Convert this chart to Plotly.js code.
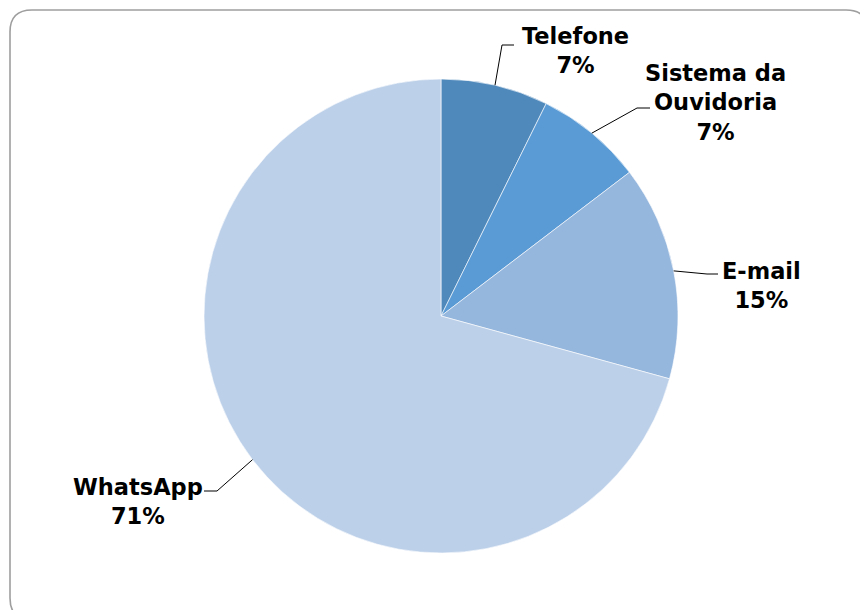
<!DOCTYPE html>
<html>
<head>
<meta charset="utf-8">
<script src="https://cdn.plot.ly/plotly-3.0.1.min.js"></script>
<style>html,body{margin:0;padding:0;background:#fff;}#chart{width:860px;height:610px;}</style>
</head>
<body>
<div id="chart"></div>
<script>
// Data
const categories = ["Telefone", "Sistema da<br>Ouvidoria", "E-mail", "WhatsApp"];
const values = [3, 3, 6, 29];
const colors = ["#4F89BC", "#5B9BD5", "#95B6DD", "#BCD0E9"];

// Layout constants (pixels)
const W = 860, H = 610;
const cx = 441, cy = 316, R = 237;
// label centre and leader elbow / end per slice
const labelPos = [[575, 51], [715, 102], [761, 285], [138, 501]];
const elbows = [[[502, 45], [514, 45]], [[637, 108], [650, 108]], [[707, 274], [718, 274]], [[217, 491], [204, 491]]];

const px = x => x / W;
const py = y => 1 - y / H;

const total = values.reduce((a, b) => a + b, 0);
const pct = values.map(v => Math.round(v / total * 100) + "%");

const trace = {
  type: "pie",
  labels: categories,
  values: values,
  sort: false,
  direction: "clockwise",
  rotation: 0,
  textinfo: "none",
  hoverinfo: "label+percent",
  marker: {colors: colors, line: {color: "#ffffff", width: 0.6}},
  domain: {x: [px(cx - R), px(cx + R)], y: [py(cy + R), py(cy - R)]},
  showlegend: false
};

const annotations = [];
const shapes = [];
let cum = 0;
values.forEach((v, i) => {
  const mid = (cum + v / 2) / total * 2 * Math.PI;
  cum += v;
  const sx = cx + R * Math.sin(mid);
  const sy = cy - R * Math.cos(mid);
  const e = elbows[i];
  shapes.push({
    type: "path", xref: "paper", yref: "paper",
    path: `M ${px(sx)} ${py(sy)} L ${px(e[0][0])} ${py(e[0][1])} L ${px(e[1][0])} ${py(e[1][1])}`,
    line: {color: "#000000", width: 1}
  });
  annotations.push({
    xref: "paper", yref: "paper",
    x: px(labelPos[i][0]), y: py(labelPos[i][1]),
    xanchor: "center", yanchor: "middle",
    showarrow: false, align: "center",
    text: "<b>" + categories[i] + "<br>" + pct[i] + "</b>",
    font: {family: "DejaVu Sans", size: 22.5, color: "#000000"}
  });
});

// rounded frame
const fx0 = 10, fy0 = 10, fx1 = 868, fy1 = 620, r = 22;
shapes.push({
  type: "path", xref: "paper", yref: "paper",
  path: `M ${px(fx0 + r)} ${py(fy0)} L ${px(fx1 - r)} ${py(fy0)} Q ${px(fx1)} ${py(fy0)} ${px(fx1)} ${py(fy0 + r)} ` +
        `L ${px(fx1)} ${py(fy1 - r)} Q ${px(fx1)} ${py(fy1)} ${px(fx1 - r)} ${py(fy1)} ` +
        `L ${px(fx0 + r)} ${py(fy1)} Q ${px(fx0)} ${py(fy1)} ${px(fx0)} ${py(fy1 - r)} ` +
        `L ${px(fx0)} ${py(fy0 + r)} Q ${px(fx0)} ${py(fy0)} ${px(fx0 + r)} ${py(fy0)} Z`,
  line: {color: "#9E9E9E", width: 1.6}
});

const layout = {
  width: W, height: H,
  margin: {l: 0, r: 0, t: 0, b: 0},
  paper_bgcolor: "#ffffff",
  annotations: annotations,
  shapes: shapes,
  showlegend: false
};

Plotly.newPlot("chart", [trace], layout, {displayModeBar: false, staticPlot: true});
</script>
</body>
</html>
